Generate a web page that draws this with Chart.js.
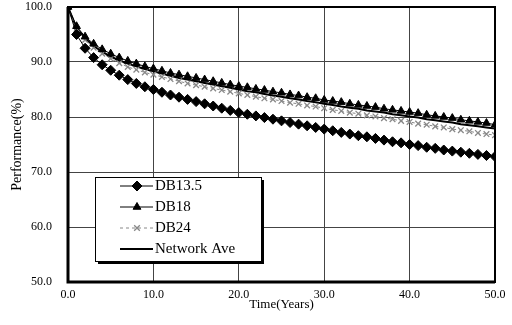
<!DOCTYPE html>
<html>
<head>
<meta charset="utf-8">
<script src="https://cdn.jsdelivr.net/npm/chart.js@4"></script>
<style>
  html, body { margin: 0; padding: 0; background: #fff; }
  #wrap { width: 512px; height: 325px; position: relative; }
</style>
</head>
<body>
<div id="wrap"><canvas id="myChart" width="512" height="325"></canvas></div>
<script>
// years 0..50
const years = [0,1,2,3,4,5,6,7,8,9,10,11,12,13,14,15,16,17,18,19,20,21,22,23,24,25,26,27,28,29,30,31,32,33,34,35,36,37,38,39,40,41,42,43,44,45,46,47,48,49,50];

const db135 = [100,95.0,92.5,90.8,89.5,88.5,87.6,86.8,86.1,85.5,85.0,84.5,84.0,83.6,83.2,82.8,82.4,82.0,81.6,81.2,80.8,80.5,80.2,79.9,79.6,79.3,79.0,78.7,78.4,78.1,77.8,77.5,77.2,76.9,76.6,76.4,76.1,75.8,75.5,75.3,75.0,74.8,74.5,74.3,74.0,73.8,73.6,73.4,73.2,73.0,72.8];
const db18 = [100,96.5,94.6,93.3,92.3,91.5,90.8,90.2,89.7,89.2,88.8,88.4,88.0,87.7,87.4,87.1,86.8,86.5,86.2,85.9,85.6,85.4,85.1,84.9,84.6,84.4,84.1,83.9,83.6,83.4,83.1,82.9,82.7,82.4,82.2,82.0,81.8,81.5,81.3,81.1,80.9,80.7,80.4,80.2,80.0,79.8,79.5,79.3,79.1,78.9,78.6];
const db24 = [100,96.0,94.0,92.6,91.5,90.6,89.8,89.1,88.6,88.1,87.7,87.3,86.9,86.5,86.1,85.8,85.5,85.2,84.9,84.6,84.3,84.0,83.7,83.4,83.2,82.9,82.6,82.4,82.1,81.9,81.6,81.3,81.1,80.8,80.6,80.3,80.1,79.8,79.6,79.3,79.1,78.8,78.6,78.3,78.1,77.8,77.6,77.4,77.1,76.9,76.7];
const networkAve = [100,96.2,94.3,92.9,91.9,91.0,90.3,89.7,89.2,88.7,88.3,87.9,87.5,87.1,86.8,86.5,86.2,85.9,85.6,85.3,85.0,84.7,84.5,84.2,83.9,83.7,83.4,83.2,82.9,82.7,82.4,82.2,81.9,81.7,81.5,81.2,81.0,80.8,80.5,80.3,80.1,79.9,79.6,79.4,79.2,79.0,78.7,78.5,78.3,78.1,77.9];

const xTicks = [0, 10, 20, 30, 40, 50];
const yTicks = [50, 60, 70, 80, 90, 100];
const seriesNames = ['DB13.5', 'DB18', 'DB24', 'Network Ave'];

const serif = "'Liberation Serif', 'DejaVu Serif', serif";

function toPoints(vals) {
    return years.map((y, i) => ({ x: y, y: vals[i] }));
}

// frame round the plot area
const framePlugin = {
    id: 'frame',
    afterDraw(chart) {
        const { ctx, chartArea: a } = chart;
        ctx.save();
        ctx.strokeStyle = '#000';
        ctx.lineWidth = 2;
        ctx.strokeRect(a.left, a.top, a.right - a.left, a.bottom - a.top);
        ctx.lineWidth = 3;
        ctx.beginPath();
        ctx.moveTo(a.left, a.top);
        ctx.lineTo(a.left, a.bottom);
        ctx.lineTo(a.right, a.bottom);
        ctx.stroke();
        ctx.restore();
    }
};

// legend box inside the plot
const legendPlugin = {
    id: 'boxLegend',
    afterDraw(chart) {
        const ctx = chart.ctx;
        const bx = 95, by = 177, bw = 166, bh = 84;
        ctx.save();
        ctx.fillStyle = '#000';
        ctx.fillRect(bx + 3, by + 3, bw, bh);
        ctx.fillStyle = '#fff';
        ctx.fillRect(bx, by, bw, bh);
        ctx.strokeStyle = '#000';
        ctx.lineWidth = 1;
        ctx.strokeRect(bx + 0.5, by + 0.5, bw, bh);

        const rows = [186, 207, 228, 249];
        chart.data.datasets.forEach((ds, i) => {
            const y = rows[i];
            ctx.strokeStyle = ds.borderColor;
            ctx.lineWidth = ds.borderWidth;
            ctx.setLineDash(ds.borderDash || []);
            ctx.beginPath();
            ctx.moveTo(120, y);
            ctx.lineTo(153, y);
            ctx.stroke();
            ctx.setLineDash([]);
            if (ds.pointRadius > 0) {
                ctx.fillStyle = ds.pointBackgroundColor;
                ctx.strokeStyle = ds.pointBorderColor;
                ctx.lineWidth = ds.pointBorderWidth;
                Chart.helpers.drawPoint(ctx, {
                    pointStyle: ds.pointStyle,
                    radius: ds.pointRadius,
                    borderWidth: ds.pointBorderWidth,
                    rotation: 0
                }, 137, y);
            }
            ctx.fillStyle = '#000';
            ctx.font = "15px " + serif;
            ctx.textBaseline = 'middle';
            ctx.textAlign = 'left';
            ctx.fillText(ds.label, 155, y);
        });
        ctx.restore();
    }
};

const canvas = document.getElementById('myChart');
const myChart = new Chart(canvas.getContext('2d'), {
    type: 'line',
    data: {
        datasets: [
            {
                label: seriesNames[0],
                data: toPoints(db135),
                borderColor: '#000',
                borderWidth: 1,
                pointStyle: 'rectRot',
                pointRadius: 5,
                pointBackgroundColor: '#000',
                pointBorderColor: '#000',
                pointBorderWidth: 1
            },
            {
                label: seriesNames[1],
                data: toPoints(db18),
                borderColor: '#000',
                borderWidth: 1,
                pointStyle: 'triangle',
                pointRadius: 4.5,
                pointBackgroundColor: '#000',
                pointBorderColor: '#000',
                pointBorderWidth: 1
            },
            {
                label: seriesNames[2],
                data: toPoints(db24),
                borderColor: '#888',
                borderWidth: 1,
                borderDash: [3, 3],
                pointStyle: 'crossRot',
                pointRadius: 4,
                pointBackgroundColor: '#888',
                pointBorderColor: '#888',
                pointBorderWidth: 1.3
            },
            {
                label: seriesNames[3],
                data: toPoints(networkAve),
                borderColor: '#000',
                borderWidth: 2,
                pointRadius: 0,
                pointBackgroundColor: '#000',
                pointBorderColor: '#000',
                pointBorderWidth: 0
            }
        ]
    },
    options: {
        responsive: false,
        animation: false,
        layout: { autoPadding: false, padding: { top: 7, right: 17, left: 0, bottom: 0 } },
        plugins: {
            legend: { display: false },
            title: { display: false },
            tooltip: { enabled: false }
        },
        scales: {
            x: {
                type: 'linear',
                min: 0,
                max: 50,
                afterBuildTicks: (scale) => { scale.ticks = xTicks.map(v => ({ value: v })); },
                afterFit: (scale) => {
                    scale.height = 43;
                    scale.paddingLeft = 0;
                    scale.paddingRight = 0;
                },
                ticks: {
                    color: '#000',
                    padding: 6,
                    font: { family: serif, size: 12 },
                    callback: (v) => v.toFixed(1)
                },
                grid: { color: '#444', lineWidth: 1, drawTicks: false },
                border: { display: false },
                title: {
                    display: true,
                    text: 'Time(Years)',
                    color: '#000',
                    font: { family: serif, size: 13 },
                    padding: { top: 0, bottom: 13 }
                }
            },
            y: {
                min: 50,
                max: 100,
                afterBuildTicks: (scale) => { scale.ticks = yTicks.map(v => ({ value: v })); },
                afterFit: (scale) => {
                    scale.width = 68;
                    scale.paddingTop = 0;
                    scale.paddingBottom = 0;
                },
                ticks: {
                    color: '#000',
                    padding: 16,
                    font: { family: serif, size: 12 },
                    callback: (v) => v.toFixed(1)
                },
                grid: { color: '#444', lineWidth: 1, drawTicks: false },
                border: { display: false },
                title: {
                    display: true,
                    text: 'Performance(%)',
                    color: '#000',
                    font: { family: serif, size: 14 },
                    padding: { top: 9, bottom: 0 }
                }
            }
        }
    },
    plugins: [framePlugin, legendPlugin]
});
</script>
</body>
</html>
